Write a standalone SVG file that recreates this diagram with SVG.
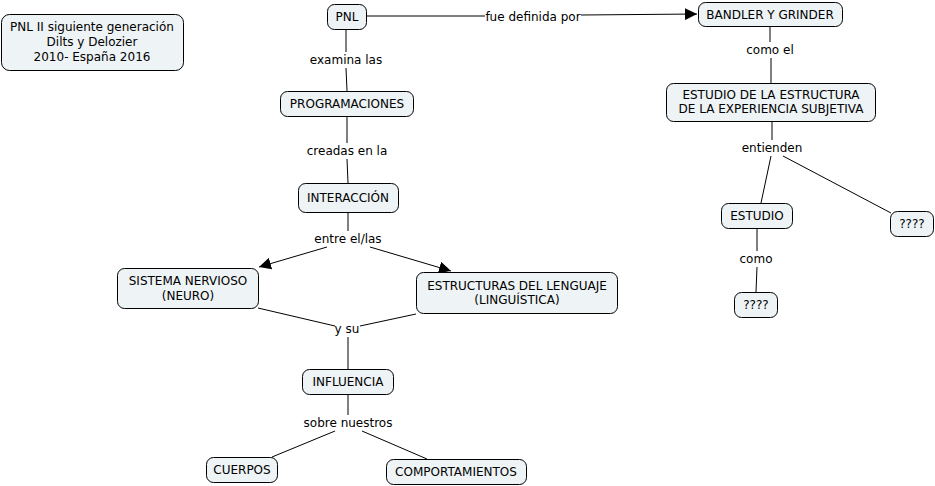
<svg xmlns="http://www.w3.org/2000/svg" width="935" height="486" viewBox="0 0 935 486">
<defs>
<style>
.n rect{fill:#eef3f5;stroke:#000;stroke-width:1;}
text{font-family:"DejaVu Sans",Verdana,sans-serif;font-size:12px;fill:#000;text-anchor:middle;}
.c line{stroke:#000;stroke-width:1;fill:none;}
.lb{fill:#fff;}
</style>
<marker id="ah" viewBox="0 0 10 10" refX="10" refY="5" markerWidth="12" markerHeight="12" markerUnits="userSpaceOnUse" orient="auto">
<path d="M0,0L10,5L0,10z" fill="#000"/>
</marker>
</defs>
<rect width="935" height="486" fill="#fff"/>
<g class="c" id="connectors">
<line x1="366" y1="16" x2="485" y2="16"/>
<line x1="581" y1="15" x2="697" y2="14" marker-end="url(#ah)"/>
<line x1="346" y1="29" x2="346" y2="52"/>
<line x1="346" y1="68" x2="347" y2="91"/>
<line x1="347" y1="116" x2="347" y2="143"/>
<line x1="347" y1="159" x2="348" y2="183"/>
<line x1="348" y1="212" x2="348" y2="231"/>
<line x1="327" y1="247" x2="259" y2="267" marker-end="url(#ah)"/>
<line x1="370" y1="247" x2="451" y2="271" marker-end="url(#ah)"/>
<line x1="258" y1="308" x2="335" y2="326"/>
<line x1="416" y1="314" x2="360" y2="326"/>
<line x1="348" y1="337" x2="348" y2="369"/>
<line x1="348" y1="394" x2="348" y2="415"/>
<line x1="335" y1="431" x2="272" y2="457"/>
<line x1="362" y1="431" x2="427" y2="459"/>
<line x1="770" y1="26" x2="770" y2="42"/>
<line x1="771" y1="58" x2="771" y2="83"/>
<line x1="772" y1="121" x2="772" y2="140"/>
<line x1="771" y1="156" x2="761" y2="203"/>
<line x1="783" y1="156" x2="891" y2="213"/>
<line x1="757" y1="228" x2="757" y2="251"/>
<line x1="757" y1="267" x2="756" y2="292"/>
</g>
<g id="labels">
<text x="533" y="21">fue definida por</text>
<text x="346" y="64">examina las</text>
<text x="347" y="155">creadas en la</text>
<text x="348" y="243">entre el/las</text>
<text x="347" y="333">y su</text>
<text x="348" y="427">sobre nuestros</text>
<text x="770" y="54">como el</text>
<text x="772" y="152">entienden</text>
<text x="756" y="263">como</text>
</g>
<g class="n" id="title"><rect x="1.5" y="14.5" width="182" height="56" rx="8"/><text x="92" y="31">PNL II siguiente generación</text><text x="92" y="46">Dilts y Delozier</text><text x="92" y="61">2010- España 2016</text></g>
<g class="n" id="pnl"><rect x="327.5" y="4.5" width="39" height="25" rx="7"/><text x="347" y="21">PNL</text></g>
<g class="n" id="bandler"><rect x="698.5" y="2.5" width="144" height="24" rx="7"/><text x="770" y="19">BANDLER Y GRINDER</text></g>
<g class="n" id="programaciones"><rect x="280.5" y="91.5" width="133" height="25" rx="7"/><text x="347" y="108">PROGRAMACIONES</text></g>
<g class="n" id="estudio-estructura"><rect x="666.5" y="83.5" width="209" height="38" rx="7"/><text x="771" y="99">ESTUDIO DE LA ESTRUCTURA</text><text x="771" y="113">DE LA EXPERIENCIA SUBJETIVA</text></g>
<g class="n" id="interaccion"><rect x="298.5" y="183.5" width="100" height="29" rx="7"/><text x="348" y="202">INTERACCIÓN</text></g>
<g class="n" id="sistema"><rect x="117.5" y="268.5" width="141" height="40" rx="7"/><text x="188" y="285">SISTEMA NERVIOSO</text><text x="188" y="300">(NEURO)</text></g>
<g class="n" id="estructuras"><rect x="416.5" y="272.5" width="201" height="41" rx="7"/><text x="517" y="290">ESTRUCTURAS DEL LENGUAJE</text><text x="517" y="304">(LINGUÍSTICA)</text></g>
<g class="n" id="estudio"><rect x="721.5" y="203.5" width="71" height="25" rx="7"/><text x="757" y="220">ESTUDIO</text></g>
<g class="n" id="q1"><rect x="890.5" y="211.5" width="43" height="25" rx="7"/><text x="912" y="228">????</text></g>
<g class="n" id="q2"><rect x="734.5" y="292.5" width="43" height="25" rx="7"/><text x="756" y="309">????</text></g>
<g class="n" id="influencia"><rect x="302.5" y="369.5" width="91" height="25" rx="7"/><text x="348" y="386">INFLUENCIA</text></g>
<g class="n" id="cuerpos"><rect x="206.5" y="457.5" width="71" height="25" rx="7"/><text x="242" y="474">CUERPOS</text></g>
<g class="n" id="comportamientos"><rect x="386.5" y="459.5" width="140" height="25" rx="7"/><text x="456" y="476">COMPORTAMIENTOS</text></g>
</svg>
